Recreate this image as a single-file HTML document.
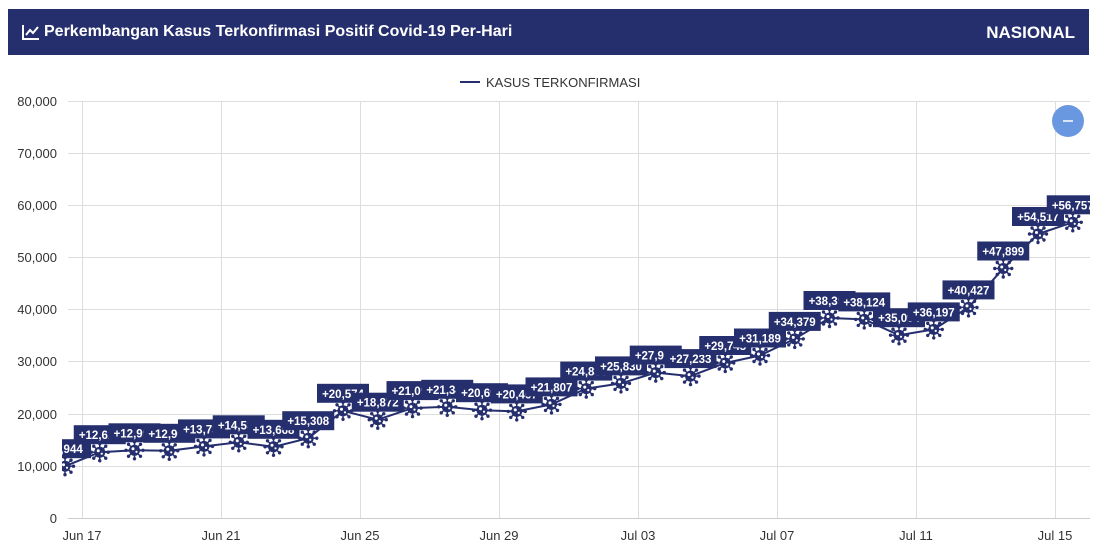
<!DOCTYPE html>
<html><head><meta charset="utf-8"><style>
body{margin:0;background:#fff;width:1095px;height:558px;overflow:hidden;font-family:"Liberation Sans",sans-serif}
.hdr{position:absolute;left:8px;top:9px;width:1081px;height:46px;background:#262f6e;color:#fff;font-weight:bold;font-size:16px}
</style></head><body>
<div class="hdr"><svg style="position:absolute;left:14px;top:15px" width="18" height="16"><path d="M1 1V15H17" stroke="#fff" stroke-width="2" fill="none"/><path d="M4 11L8 6L11 9L16 3" stroke="#fff" stroke-width="2" fill="none"/></svg><span style="position:absolute;left:36px;top:14px">Perkembangan Kasus Terkonfirmasi Positif Covid-19 Per-Hari</span><span style="position:absolute;right:14px;top:14px;font-size:17px">NASIONAL</span></div>
<svg width="1095" height="558" style="position:absolute;left:0;top:0" font-family="Liberation Sans, sans-serif">
<defs>
<g id="v"><g stroke="#262f6e" stroke-width="1.5"><line x1="0" y1="-8" x2="0" y2="8"/><line x1="-8" y1="0" x2="8" y2="0"/><line x1="-5.7" y1="-5.7" x2="5.7" y2="5.7"/><line x1="-5.7" y1="5.7" x2="5.7" y2="-5.7"/></g><circle r="5.5" fill="#262f6e"/><circle r="1.5" fill="#fff" cx="-1.5" cy="-1.5"/><circle r="1.1" fill="#fff" cx="2" cy="1.5"/>
<g fill="#262f6e"><circle cx="0" cy="-8.5" r="1.7"/><circle cx="0" cy="8.5" r="1.7"/><circle cx="-8.5" cy="0" r="1.7"/><circle cx="8.5" cy="0" r="1.7"/><circle cx="6" cy="6" r="1.7"/><circle cx="-6" cy="6" r="1.7"/><circle cx="6" cy="-6" r="1.7"/><circle cx="-6" cy="-6" r="1.7"/></g></g>
<clipPath id="c"><rect x="62" y="90" width="1028" height="440"/></clipPath>
</defs>
<line x1="460" y1="82" x2="480" y2="82" stroke="#262f6e" stroke-width="2"/>
<text x="486" y="87" font-size="13" fill="#333">KASUS TERKONFIRMASI</text>
<g stroke="#ddd" stroke-width="1">
<line x1="68" x2="1090" y1="101.5" y2="101.5"/><line x1="68" x2="1090" y1="153.5" y2="153.5"/><line x1="68" x2="1090" y1="205.5" y2="205.5"/><line x1="68" x2="1090" y1="257.5" y2="257.5"/><line x1="68" x2="1090" y1="309.5" y2="309.5"/><line x1="68" x2="1090" y1="361.5" y2="361.5"/><line x1="68" x2="1090" y1="414.5" y2="414.5"/><line x1="68" x2="1090" y1="466.5" y2="466.5"/>
<line x1="82.5" x2="82.5" y1="101" y2="518"/><line x1="221.5" x2="221.5" y1="101" y2="518"/><line x1="360.5" x2="360.5" y1="101" y2="518"/><line x1="499.5" x2="499.5" y1="101" y2="518"/><line x1="638.5" x2="638.5" y1="101" y2="518"/><line x1="777.5" x2="777.5" y1="101" y2="518"/><line x1="916.5" x2="916.5" y1="101" y2="518"/><line x1="1055.5" x2="1055.5" y1="101" y2="518"/>
</g>
<line x1="68" x2="1090" y1="518.5" y2="518.5" stroke="#ccc"/>
<g font-size="13" fill="#333" text-anchor="end">
<text x="57" y="106">80,000</text><text x="57" y="158">70,000</text><text x="57" y="210">60,000</text><text x="57" y="262">50,000</text><text x="57" y="314">40,000</text><text x="57" y="366">30,000</text><text x="57" y="419">20,000</text><text x="57" y="471">10,000</text><text x="57" y="523">0</text>
</g>
<g font-size="13" fill="#333" text-anchor="middle">
<text x="82" y="540">Jun 17</text><text x="221" y="540">Jun 21</text><text x="360" y="540">Jun 25</text><text x="499" y="540">Jun 29</text><text x="638" y="540">Jul 03</text><text x="777" y="540">Jul 07</text><text x="916" y="540">Jul 11</text><text x="1055" y="540">Jul 15</text>
</g>
<g clip-path="url(#c)">
<polyline fill="none" stroke="#262f6e" stroke-width="2" points="65,466.2 99.75,452.2 134.5,450.3 169.25,450.8 204,446.4 238.75,442.3 273.5,446.8 308.25,438.2 343,410.8 377.75,419.7 412.5,408.1 447.25,406.8 482,410.2 516.75,411.4 551.5,404.4 586.25,388.6 621,383.4 655.75,372.6 690.5,376.1 725.25,363 760,355.5 794.75,338.9 829.5,318 864.25,319.4 899,335.2 933.75,329.4 968.5,307.4 1003.25,268.5 1038,234 1072.75,222.3"/>
<g font-size="11.5" font-weight="bold" fill="#fff" text-anchor="middle">
<g transform="translate(65,466.2)"><rect x="-26" y="-27" width="52" height="19" fill="#262f6e"/><text y="-13">+9,944</text></g>
<g transform="translate(99.75,452.2)"><rect x="-26" y="-27" width="52" height="19" fill="#262f6e"/><text y="-13">+12,624</text></g>
<g transform="translate(134.5,450.3)"><rect x="-26" y="-27" width="52" height="19" fill="#262f6e"/><text y="-13">+12,990</text></g>
<g transform="translate(169.25,450.8)"><rect x="-26" y="-27" width="52" height="19" fill="#262f6e"/><text y="-13">+12,906</text></g>
<g transform="translate(204,446.4)"><rect x="-26" y="-27" width="52" height="19" fill="#262f6e"/><text y="-13">+13,737</text></g>
<g transform="translate(238.75,442.3)"><rect x="-26" y="-27" width="52" height="19" fill="#262f6e"/><text y="-13">+14,536</text></g>
<g transform="translate(273.5,446.8)"><rect x="-26" y="-27" width="52" height="19" fill="#262f6e"/><text y="-13">+13,668</text></g>
<g transform="translate(308.25,438.2)"><rect x="-26" y="-27" width="52" height="19" fill="#262f6e"/><text y="-13">+15,308</text></g>
<g transform="translate(343,410.8)"><rect x="-26" y="-27" width="52" height="19" fill="#262f6e"/><text y="-13">+20,574</text></g>
<g transform="translate(377.75,419.7)"><rect x="-26" y="-27" width="52" height="19" fill="#262f6e"/><text y="-13">+18,872</text></g>
<g transform="translate(412.5,408.1)"><rect x="-26" y="-27" width="52" height="19" fill="#262f6e"/><text y="-13">+21,095</text></g>
<g transform="translate(447.25,406.8)"><rect x="-26" y="-27" width="52" height="19" fill="#262f6e"/><text y="-13">+21,342</text></g>
<g transform="translate(482,410.2)"><rect x="-26" y="-27" width="52" height="19" fill="#262f6e"/><text y="-13">+20,694</text></g>
<g transform="translate(516.75,411.4)"><rect x="-26" y="-27" width="52" height="19" fill="#262f6e"/><text y="-13">+20,467</text></g>
<g transform="translate(551.5,404.4)"><rect x="-26" y="-27" width="52" height="19" fill="#262f6e"/><text y="-13">+21,807</text></g>
<g transform="translate(586.25,388.6)"><rect x="-26" y="-27" width="52" height="19" fill="#262f6e"/><text y="-13">+24,836</text></g>
<g transform="translate(621,383.4)"><rect x="-26" y="-27" width="52" height="19" fill="#262f6e"/><text y="-13">+25,830</text></g>
<g transform="translate(655.75,372.6)"><rect x="-26" y="-27" width="52" height="19" fill="#262f6e"/><text y="-13">+27,913</text></g>
<g transform="translate(690.5,376.1)"><rect x="-26" y="-27" width="52" height="19" fill="#262f6e"/><text y="-13">+27,233</text></g>
<g transform="translate(725.25,363)"><rect x="-26" y="-27" width="52" height="19" fill="#262f6e"/><text y="-13">+29,745</text></g>
<g transform="translate(760,355.5)"><rect x="-26" y="-27" width="52" height="19" fill="#262f6e"/><text y="-13">+31,189</text></g>
<g transform="translate(794.75,338.9)"><rect x="-26" y="-27" width="52" height="19" fill="#262f6e"/><text y="-13">+34,379</text></g>
<g transform="translate(829.5,318)"><rect x="-26" y="-27" width="52" height="19" fill="#262f6e"/><text y="-13">+38,391</text></g>
<g transform="translate(864.25,319.4)"><rect x="-26" y="-27" width="52" height="19" fill="#262f6e"/><text y="-13">+38,124</text></g>
<g transform="translate(899,335.2)"><rect x="-26" y="-27" width="52" height="19" fill="#262f6e"/><text y="-13">+35,094</text></g>
<g transform="translate(933.75,329.4)"><rect x="-26" y="-27" width="52" height="19" fill="#262f6e"/><text y="-13">+36,197</text></g>
<g transform="translate(968.5,307.4)"><rect x="-26" y="-27" width="52" height="19" fill="#262f6e"/><text y="-13">+40,427</text></g>
<g transform="translate(1003.25,268.5)"><rect x="-26" y="-27" width="52" height="19" fill="#262f6e"/><text y="-13">+47,899</text></g>
<g transform="translate(1038,234)"><rect x="-26" y="-27" width="52" height="19" fill="#262f6e"/><text y="-13">+54,517</text></g>
<g transform="translate(1072.75,222.3)"><rect x="-26" y="-27" width="52" height="19" fill="#262f6e"/><text y="-13">+56,757</text></g>
</g>
<use href="#v" x="65" y="466.2"/><use href="#v" x="99.75" y="452.2"/><use href="#v" x="134.5" y="450.3"/><use href="#v" x="169.25" y="450.8"/><use href="#v" x="204" y="446.4"/><use href="#v" x="238.75" y="442.3"/><use href="#v" x="273.5" y="446.8"/><use href="#v" x="308.25" y="438.2"/><use href="#v" x="343" y="410.8"/><use href="#v" x="377.75" y="419.7"/><use href="#v" x="412.5" y="408.1"/><use href="#v" x="447.25" y="406.8"/><use href="#v" x="482" y="410.2"/><use href="#v" x="516.75" y="411.4"/><use href="#v" x="551.5" y="404.4"/><use href="#v" x="586.25" y="388.6"/><use href="#v" x="621" y="383.4"/><use href="#v" x="655.75" y="372.6"/><use href="#v" x="690.5" y="376.1"/><use href="#v" x="725.25" y="363"/><use href="#v" x="760" y="355.5"/><use href="#v" x="794.75" y="338.9"/><use href="#v" x="829.5" y="318"/><use href="#v" x="864.25" y="319.4"/><use href="#v" x="899" y="335.2"/><use href="#v" x="933.75" y="329.4"/><use href="#v" x="968.5" y="307.4"/><use href="#v" x="1003.25" y="268.5"/><use href="#v" x="1038" y="234"/><use href="#v" x="1072.75" y="222.3"/>
</g>
<circle cx="1068" cy="121" r="16" fill="#6a98e0"/><line x1="1063" y1="121" x2="1073" y2="121" stroke="#fff" stroke-width="1.5"/>
</svg>
</body></html>
